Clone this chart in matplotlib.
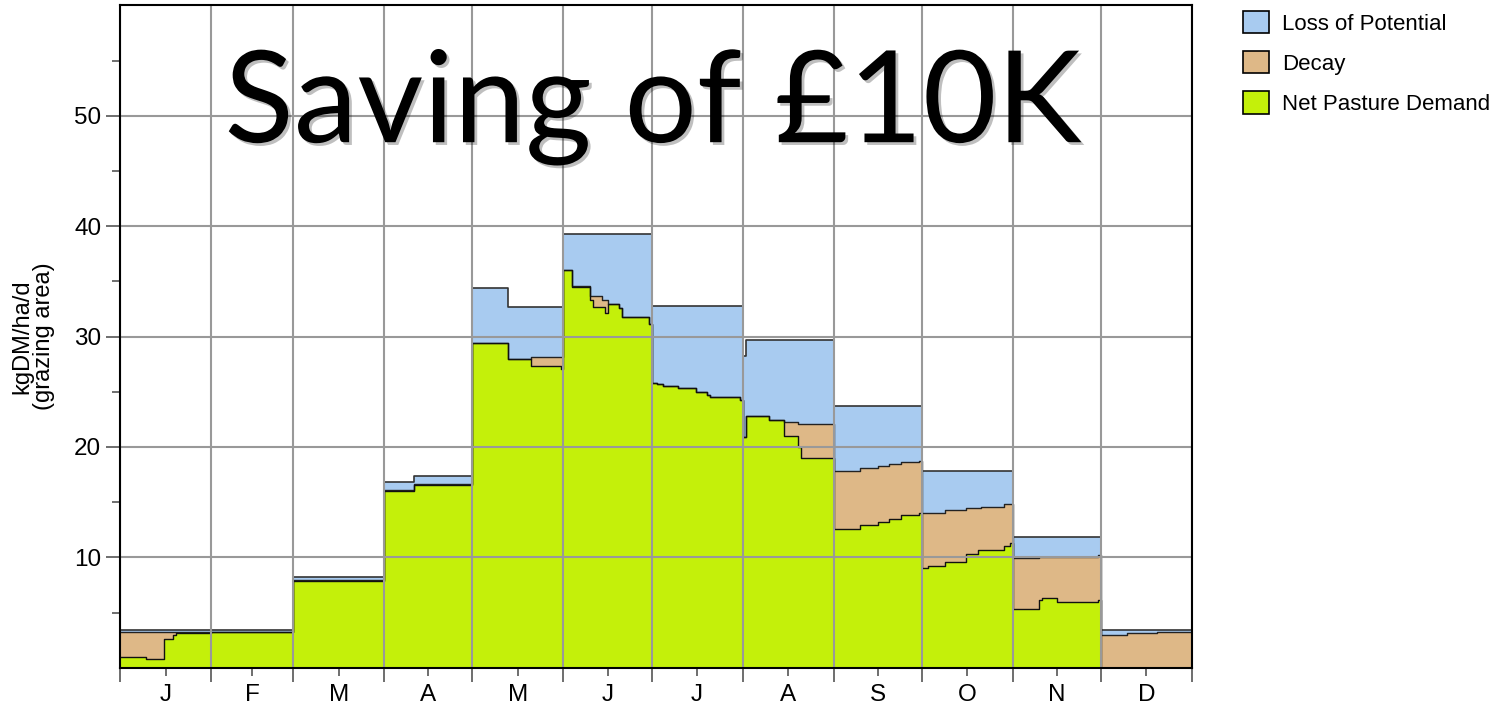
import matplotlib
matplotlib.use('Agg')
import matplotlib.pyplot as plt
import matplotlib.patheffects as pe
from matplotlib.patches import Patch
import numpy as np

plt.rcParams['font.family'] = ['Liberation Sans', 'DejaVu Sans']

# month layout (day of year)
months = ['J', 'F', 'M', 'A', 'M', 'J', 'J', 'A', 'S', 'O', 'N', 'D']
month_edges = [0, 31, 59, 90, 120, 151, 181, 212, 243, 273, 304, 334, 365]

# step start days and stacked values (kgDM/ha/d)
seg_start = [0, 9, 15, 18, 19, 31, 59, 90, 100,
             120, 132, 140, 150,
             151, 154, 160, 161, 164, 165, 166, 170, 171, 180,
             181, 183, 185, 190, 196, 200, 201, 211,
             212, 213, 221, 226, 231, 232,
             243, 252, 258, 262, 266, 272,
             273, 275, 281, 288, 292, 293, 301, 303,
             304, 313, 314, 319, 333,
             334, 343, 353]
net_demand = [1.0, 0.75, 2.6, 2.95, 3.1, 3.2, 7.85, 16.05, 16.55,
              29.45, 27.95, 27.35, 27.05,
              36.0, 34.5, 33.3, 32.7, 32.7, 32.1, 32.9, 32.6, 31.8, 31.1,
              25.8, 25.7, 25.55, 25.3, 24.95, 24.7, 24.55, 24.25,
              20.9, 22.8, 22.45, 21.0, 20.0, 19.0,
              12.55, 12.9, 13.2, 13.5, 13.8, 14.0,
              9.05, 9.2, 9.6, 10.3, 10.7, 10.7, 11.0, 11.3,
              5.3, 6.1, 6.3, 5.95, 6.1,
              0.0, 0.0, 0.0]
decay = [2.25, 2.5, 0.65, 0.3, 0.15, 0.05, 0.05, 0.05, 0.05,
         0.0, 0.0, 0.75, 1.05,
         0.0, 0.1, 0.4, 1.0, 0.6, 1.2, 0.0, 0.0, 0.0, 0.0,
         0.0, 0.0, 0.0, 0.0, 0.0, 0.0, 0.0, 0.0,
         0.0, 0.0, 0.0, 1.3, 2.1, 3.1,
         5.25, 5.15, 5.1, 4.95, 4.8, 4.7,
         5.0, 4.85, 4.7, 4.2, 3.8, 3.9, 3.8, 3.5,
         4.6, 3.95, 3.75, 4.1, 4.1,
         2.95, 3.1, 3.25]
loss = [0.15, 0.15, 0.15, 0.15, 0.15, 0.2, 0.35, 0.75, 0.8,
        4.95, 4.75, 4.6, 4.6,
        3.3, 4.7, 5.6, 5.6, 6.0, 6.0, 6.4, 6.7, 7.5, 8.2,
        7.0, 7.1, 7.25, 7.5, 7.85, 8.1, 8.25, 8.55,
        7.3, 6.9, 7.25, 7.4, 7.6, 7.6,
        5.9, 5.65, 5.4, 5.25, 5.1, 5.0,
        3.8, 3.8, 3.55, 3.35, 3.35, 3.25, 3.05, 3.05,
        1.95, 1.8, 1.8, 1.8, 1.65,
        0.45, 0.3, 0.15]

c_green = '#C4F00A'
c_decay = '#DEB887'
c_loss = '#A8CBF0'

x = np.array(seg_start + [365])
g = np.array(net_demand + [net_demand[-1]])
d = g + np.array(decay + [decay[-1]])
t = d + np.array(loss + [loss[-1]])

fig = plt.figure(figsize=(14.99, 7.11), dpi=100)
ax = fig.add_axes([120 / 1499, 43.3 / 711, 1072 / 1499, 662.4 / 711])

ax.fill_between(x, 0, g, step='post', color=c_green, lw=0, zorder=1)
ax.fill_between(x, g, d, step='post', color=c_decay, lw=0, zorder=1)
ax.fill_between(x, d, t, step='post', color=c_loss, lw=0, zorder=1)
ax.step(x, t, where='post', color='#333333', lw=1.2, zorder=2)
ax.step(x, d, where='post', color='#222222', lw=1.0, zorder=2)
ax.step(x, g, where='post', color='#111111', lw=1.0, zorder=2)

ax.set_xlim(0, 365)
ax.set_ylim(0, 60)

ax.set_xticks(month_edges)
ax.set_xticklabels([])
centers = [(a + b) / 2 for a, b in zip(month_edges[:-1], month_edges[1:])]
ax.set_xticks(centers, minor=True)
ax.set_xticklabels(months, minor=True, fontsize=17.5)
ax.tick_params(axis='x', which='major', length=10, width=1.2, color='#555555')
ax.tick_params(axis='x', which='minor', length=6, width=1.2, color='#555555', pad=6)

ax.set_yticks([10, 20, 30, 40, 50])
ax.set_yticks([5, 15, 25, 35, 45, 55], minor=True)
ax.tick_params(axis='y', which='major', length=10, width=1.2, color='#555555', labelsize=17.5)
ax.tick_params(axis='y', which='minor', length=6, width=1.2, color='#555555')
ax.set_ylabel('kgDM/ha/d\n(grazing area)', fontsize=17, labelpad=14, linespacing=0.95)

ax.set_axisbelow(False)
ax.grid(True, which='major', color='#999999', lw=1.5, zorder=3)
for s in ax.spines.values():
    s.set_color('black')
    s.set_linewidth(1.5)
    s.set_zorder(4)

ax.text(181.5, 47.6, 'Saving of £10K', family='Lato', fontsize=92,
        ha='center', va='baseline', color='black', zorder=5,
        path_effects=[pe.withSimplePatchShadow(offset=(2, -2), alpha=0.25)])

handles = [Patch(facecolor=c_loss, edgecolor='black', lw=1.2),
           Patch(facecolor=c_decay, edgecolor='black', lw=1.2),
           Patch(facecolor=c_green, edgecolor='black', lw=1.2)]
fig.legend(handles, ['Loss of Potential', 'Decay', 'Net Pasture Demand'],
           loc='upper left', bbox_to_anchor=(1243 / 1499, 1 - 11 / 711),
           frameon=False, fontsize=16, borderpad=0, borderaxespad=0,
           handlelength=1.15, handleheight=1.15, handletextpad=0.6,
           labelspacing=0.75)

fig.savefig('out.png', dpi=100)
